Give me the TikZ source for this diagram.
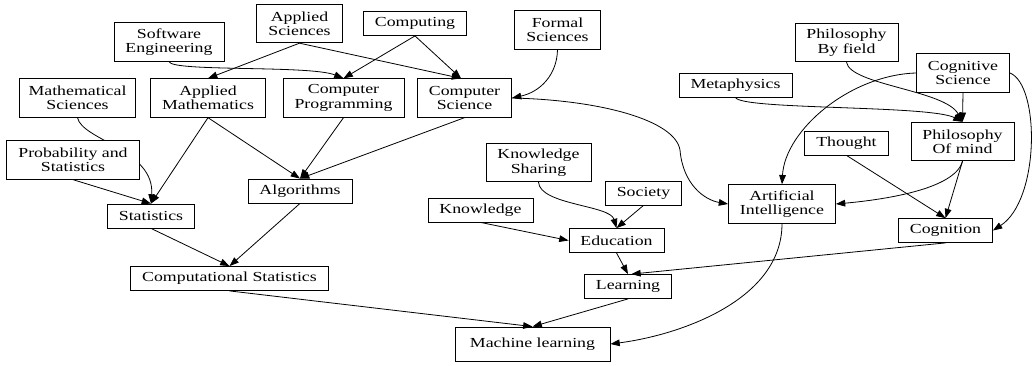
\documentclass[tikz,border=0pt]{standalone}
\usepackage{fontspec}
\setmainfont{Liberation Serif}[FakeStretch=1.29]
\usetikzlibrary{arrows.meta,backgrounds}
\tikzset{topic/.style={draw, fill=white, line width=0.6pt, inner xsep=8.6pt, inner ysep=0pt, minimum height=18pt, align=center, font=\fontsize{10.35}{10.8}\selectfont}, pair/.style={topic, minimum height=28.9pt}, link/.style={-{Triangle[length=7pt,width=5pt]}, line width=0.6pt}}

\begin{document}
\begin{tikzpicture}[x=0.75pt,y=-0.75pt]
   \useasboundingbox (0,0) rectangle (1033,365);
   % topics
    \node[pair]  (swe)       at (169,42)    {Software\\Engineering};
    \node[pair]  (appsci)    at (299.5,23.5) {Applied\\Sciences};
    \node[topic] (comping)   at (415,23.5)  {Computing};
    \node[pair]  (formal)    at (557.5,30)  {Formal\\Sciences};
    \node[pair, inner xsep=6.5pt] (mathsci) at (77.5,98) {Mathematical\\Sciences};
    \node[pair]  (appmath)   at (208,98)    {Applied\\Mathematics};
    \node[pair]  (compprog)  at (343.5,98)  {Computer\\Programming};
    \node[pair]  (compsci)   at (464.5,98)  {Computer\\Science};
    \node[pair, minimum width=99pt] (probstat) at (73,160) {Probability and\\Statistics};
    \node[topic] (algo)      at (300,191)   {Algorithms};
    \node[topic] (stat)      at (151,216)   {Statistics};
    \node[topic, minimum width=147.75pt] (compstat) at (229.5,278.5) {Computational Statistics};
    \node[pair]  (ksharing)  at (538.5,162.5) {Knowledge\\Sharing};
    \node[topic] (society)   at (643.5,193) {Society};
    \node[topic] (knowledge) at (480.5,210) {Knowledge};
    \node[topic] (edu)       at (616.5,240.5) {Education};
    \node[topic] (learning)  at (628,286.5) {Learning};
    \node[topic, minimum width=116.25pt, minimum height=25.5pt] (ml) at (532.5,344) {Machine learning};
    \node[pair]  (pbf)       at (846.5,42.5) {Philosophy\\By field};
    \node[pair]  (cogsci)    at (963,73)    {Cognitive\\Science};
    \node[topic] (meta)      at (735.5,85)  {Metaphysics};
    \node[topic] (thought)   at (846.5,143) {Thought};
    \node[pair]  (pom)       at (962.5,141.5) {Philosophy\\Of mind};
    \node[pair]  (ai)        at (782,204)   {Artificial\\Intelligence};
    \node[topic] (cognition) at (945.5,230.5) {Cognition};
   % links
    \begin{pgfonlayer}{background}
     \draw[link] (mathsci.south) .. controls (82,140) and (155,150) .. (stat.north);
    \end{pgfonlayer}
    \draw[link] (appsci.south) -- (appmath.north);
    \draw[link] (appsci.south) -- (compsci.100);
    \draw[link] (swe.south) .. controls (172,72) and (310,65) .. (compprog.north);
    \draw[link] (comping.south) -- (compprog.north);
    \draw[link] (comping.south) -- (compsci.100);
    \draw[link] (formal.south) .. controls (557,75) and (540,92) .. (compsci.east);
    \draw[link] (probstat.south) -- (stat.north);
    \draw[link] (appmath.south) -- (stat.north);
    \draw[link] (appmath.south) -- (algo.north);
    \draw[link] (compprog.south) -- (algo.north);
    \draw[link] (compsci.south) -- (algo.north);
    \draw[link] (stat.south) -- (compstat.north);
    \draw[link] (algo.south) -- (compstat.north);
    \draw[link] (compstat.south) -- (ml.north);
    \draw[link] (compsci.east) .. controls (600,100) and (675,120) .. (680,150)
                               .. controls (683,185) and (705,200) .. (ai.west);
    \draw[link] (cogsci.west) .. controls (850,75) and (785,130) .. (ai.north);
    \draw[link] (cogsci.south) -- (pom.north);
    \draw[link] (pbf.south) .. controls (850,85) and (945,90) .. (pom.north);
    \draw[link] (meta.south) .. controls (740,110) and (930,105) .. (pom.north);
    \draw[link] (cogsci.east) .. controls (1040,85) and (1040,200) .. (cognition.east);
    \draw[link] (pom.south) .. controls (955,190) and (880,200) .. (ai.east);
    \draw[link] (pom.south) -- (cognition.north);
    \draw[link] (thought.south) -- (cognition.north);
    \draw[link] (ksharing.south) .. controls (540,205) and (610,205) .. (edu.north);
    \draw[link] (society.south) -- (edu.north);
    \draw[link] (knowledge.south) -- (edu.west);
    \draw[link] (edu.south) -- (learning.north);
    \draw[link] (cognition.south) -- (learning.75);
    \draw[link] (learning.south) -- (ml.north);
    \draw[link] (ai.south) .. controls (782,300) and (680,335) .. (ml.east);
\end{tikzpicture}
\end{document}
